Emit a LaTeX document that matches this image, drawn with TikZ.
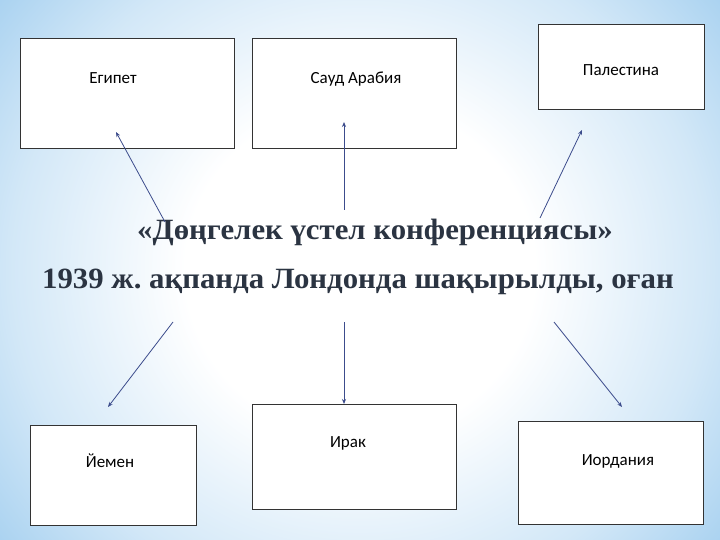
\documentclass[tikz,border=0pt]{standalone}
\usepackage{fontspec}
\setmainfont{Liberation Serif}
\newfontfamily\boxfont{Carlito}
\usetikzlibrary{arrows.meta}
\definecolor{edge}{HTML}{9CCBEE}
\definecolor{ttl}{HTML}{2B3442}
\definecolor{arr}{HTML}{3C4C8C}
\pgfdeclareradialshading{bgshade}{\pgfpoint{0cm}{0cm}}{%
  color(0cm)=(white); color(0.35cm)=(white); color(0.7cm)=(edge!45); color(1cm)=(edge)}
\frenchspacing
\begin{document}
\begin{tikzpicture}[x=1pt,y=-1pt,
  bx/.style={draw=black!80,fill=white,line width=0.6pt},
  lbl/.style={font=\boxfont\fontsize{17}{20}\selectfont,text=black},
  ar/.style={draw=arr,line width=0.8pt,-{Stealth[length=5pt,width=4pt]}},
  tt/.style={font=\bfseries\fontsize{28}{32}\selectfont,text=ttl,transform shape,xscale=1.1,yscale=1.05}]
\useasboundingbox (0,0) rectangle (720,540);
\shade[shading=bgshade] (-80,-150) rectangle (800,690);
\node[bx,minimum width=214,minimum height=110] (eg) at (127,93) {};
\node[lbl] at (113,78) {Египет};
\node[bx,minimum width=204,minimum height=110] (sa) at (354,93) {};
\node[lbl] at (356,79) {Сауд Арабия};
\node[bx,minimum width=166,minimum height=85] (pa) at (621,67) {};
\node[lbl] at (621,70) {Палестина};
\node[bx,minimum width=166,minimum height=100] (ye) at (113,475) {};
\node[lbl] at (110,461) {Йемен};
\node[bx,minimum width=204,minimum height=105] (ir) at (354,457) {};
\node[lbl] at (348,443) {Ирак};
\node[bx,minimum width=185,minimum height=103] (jo) at (611,473) {};
\node[lbl] at (618,461) {Иордания};
\node[tt] (t1) at (375,232) {«Дөңгелек үстел конференциясы»};
\node[tt] (t2) at (358,282) {1939 ж. ақпанда Лондонда шақырылды, оған};
\coordinate (a1) at (165,222); \coordinate (b1) at (116,132);
\coordinate (a2) at (344,210); \coordinate (b2) at (344,122);
\coordinate (a3) at (540,218); \coordinate (b3) at (582,130);
\coordinate (a4) at (173,322); \coordinate (b4) at (108,407);
\coordinate (a5) at (344,322); \coordinate (b5) at (344,404);
\coordinate (a6) at (554,322); \coordinate (b6) at (622,407);
\foreach \i in {1,...,6} \draw[ar] (a\i) -- (b\i);
\end{tikzpicture}
\end{document}
